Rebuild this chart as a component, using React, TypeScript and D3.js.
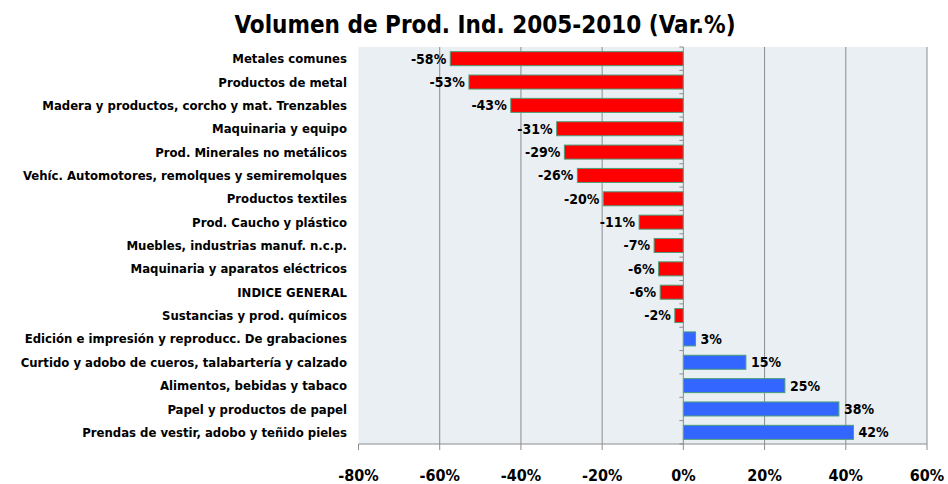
import React from "react";
import * as d3 from "d3";

const categories = [
  "Metales comunes",
  "Productos de metal",
  "Madera y productos, corcho y mat. Trenzables",
  "Maquinaria y equipo",
  "Prod. Minerales no metálicos",
  "Vehíc. Automotores, remolques y semiremolques",
  "Productos textiles",
  "Prod. Caucho y plástico",
  "Muebles, industrias manuf. n.c.p.",
  "Maquinaria y aparatos eléctricos",
  "INDICE GENERAL",
  "Sustancias y prod. químicos",
  "Edición e impresión y reproducc. De grabaciones",
  "Curtido y adobo de cueros, talabartería y calzado",
  "Alimentos, bebidas y tabaco",
  "Papel y productos de papel",
  "Prendas de vestir, adobo y teñido pieles",
];
const values = [
  -57.4, -52.8, -42.5, -31.2, -29.3, -26.1, -19.7, -10.9, -7.2, -6.1, -5.7, -2.1,
  3.0, 15.4, 25.0, 38.3, 41.9,
];
const valueLabels = [
  "-58%", "-53%", "-43%", "-31%", "-29%", "-26%", "-20%", "-11%", "-7%", "-6%",
  "-6%", "-2%", "3%", "15%", "25%", "38%", "42%",
];
const xTicks = [-80, -60, -40, -20, 0, 20, 40, 60];

const W = 948;
const H = 484;
const plot = { left: 358.5, right: 927, top: 47, bottom: 444 };
const font = "'DejaVu Sans Condensed', 'Liberation Sans Narrow', 'Open Sans', sans-serif";

export default function App() {
  const x = d3.scaleLinear().domain([-80, 60]).range([plot.left, plot.right]);
  const y = d3
    .scaleBand<string>()
    .domain(categories)
    .range([plot.top, plot.bottom])
    .paddingInner(0.4)
    .paddingOuter(0.2);
  const step = y.step();
  const x0 = x(0);

  return (
    <svg
      width={W}
      height={H}
      style={{ position: "absolute", left: 0, top: 0, fontFamily: font }}
    >
      <rect width={W} height={H} fill="#ffffff" />
      <text
        x={485}
        y={33}
        textAnchor="middle"
        fontSize={24}
        fontWeight="bold"
        fill="#000"
      >
        Volumen de Prod. Ind. 2005-2010 (Var.%)
      </text>
      <rect
        x={plot.left}
        y={plot.top}
        width={plot.right - plot.left}
        height={plot.bottom - plot.top}
        fill="#e9eff3"
      />
      {xTicks
        .filter((t) => t !== 0 && t !== -80)
        .map((t) => (
          <line
            key={"g" + t}
            x1={x(t)}
            x2={x(t)}
            y1={plot.top}
            y2={plot.bottom}
            stroke="#8c8c8c"
            strokeWidth={1}
          />
        ))}
      {categories.map((c, i) => {
        const v = values[i];
        const bx = v < 0 ? x(v) : x0;
        const bw = Math.abs(x(v) - x0);
        const by = y(c)!;
        const bh = y.bandwidth();
        return (
          <g key={c}>
            <rect
              x={bx}
              y={by}
              width={bw}
              height={bh}
              fill={v < 0 ? "#ff0000" : "#3366ff"}
              stroke="#4a9e78"
              strokeWidth={1}
            />
            <text
              x={v < 0 ? bx - 4 : x(v) + 5}
              y={by + bh / 2}
              dy="0.35em"
              textAnchor={v < 0 ? "end" : "start"}
              fontSize={14}
              fontWeight="bold"
              fill="#000"
            >
              {valueLabels[i]}
            </text>
            <text
              x={347}
              y={by + bh / 2}
              dy="0.35em"
              textAnchor="end"
              fontSize={13}
              fontWeight="bold"
              fill="#000"
            >
              {c}
            </text>
          </g>
        );
      })}
      {/* vertical axis at 0 */}
      <line x1={x0} x2={x0} y1={plot.top} y2={plot.bottom} stroke="#8c8c8c" />
      {d3.range(categories.length + 1).map((i) => {
        const ty = plot.top + i * step;
        return (
          <line
            key={"yt" + i}
            x1={x0 - 4}
            x2={x0}
            y1={ty}
            y2={ty}
            stroke="#8c8c8c"
          />
        );
      })}
      {/* horizontal axis */}
      <line
        x1={plot.left}
        x2={plot.right}
        y1={plot.bottom}
        y2={plot.bottom}
        stroke="#8c8c8c"
      />
      {xTicks.map((t) => (
        <g key={"xt" + t}>
          <line
            x1={x(t)}
            x2={x(t)}
            y1={plot.bottom}
            y2={plot.bottom + 6}
            stroke="#8c8c8c"
          />
          <text
            x={x(t)}
            y={475}
            dy="0.35em"
            textAnchor="middle"
            fontSize={16}
            fontWeight="bold"
            fill="#000"
          >
            {(t < 0 ? "-" : "") + Math.abs(t) + "%"}
          </text>
        </g>
      ))}
    </svg>
  );
}
